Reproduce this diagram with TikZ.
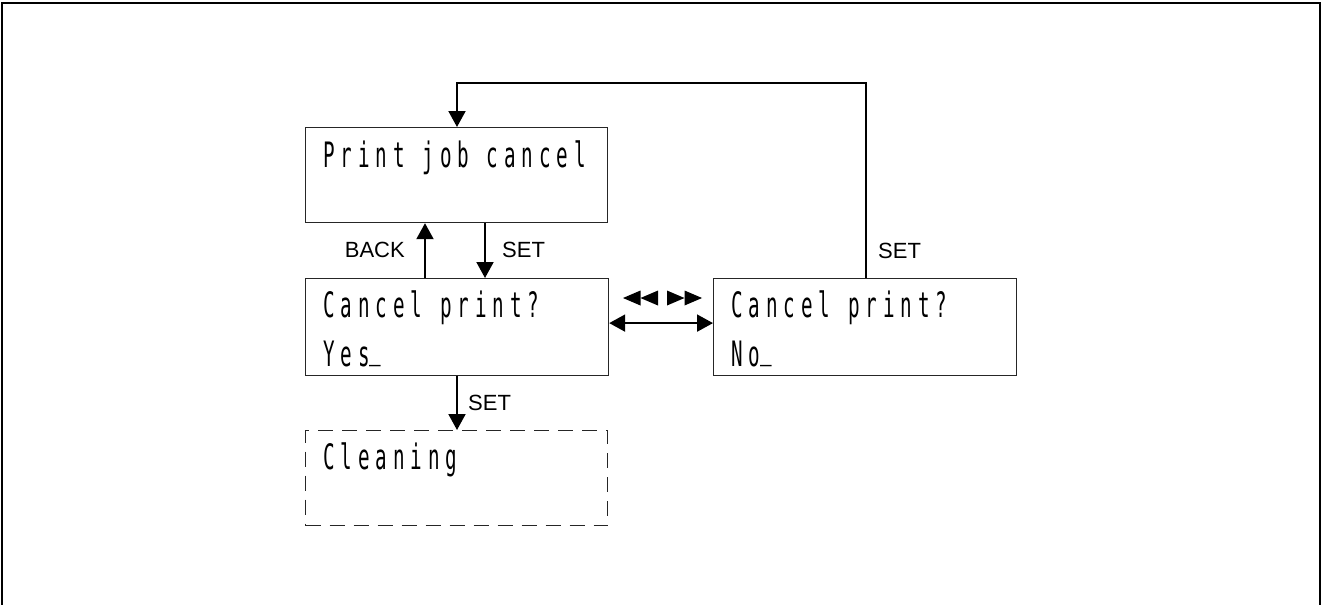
\documentclass[tikz,border=0pt]{standalone}
\usepackage{fontspec}
\setmainfont{Liberation Sans}
\newfontfamily\lcdfont[FakeStretch=0.55,LetterSpace=17]{DejaVu Sans Mono}
\usetikzlibrary{arrows.meta,calc}
\newcommand{\lcdus}{\raisebox{7.5pt}{\_}}
\begin{document}
\begin{tikzpicture}[x=1pt,y=-1pt,
  box/.style={draw=black!85,line width=1.2pt,rectangle,inner sep=0pt,anchor=north west},
  dbox/.style={box,dash pattern=on 15pt off 9pt},
  lcd/.style={anchor=base west,inner sep=0pt,font=\lcdfont\fontsize{35}{35}\selectfont},
  lab/.style={inner sep=0pt,font=\fontsize{22}{22}\selectfont},
  conn/.style={line width=2pt,-{Triangle[length=16pt,width=17pt]}},
  frame/.style={line width=2.6pt}
  ]
\useasboundingbox (0,0) rectangle (1326,605);
\draw[frame] (2,615) -- (2,3) -- (1320,3) -- (1320,615);

\node[box,minimum width=302pt,minimum height=95pt] (b1) at (305,127) {};
\node[box,minimum width=303pt,minimum height=97pt] (b2) at (305,278) {};
\node[dbox,minimum width=302pt,minimum height=95pt] (b3) at (305,430) {};
\node[box,minimum width=303pt,minimum height=97pt] (b4) at (713,278) {};

\node[lcd] (t1) at (323,167) {Print job cancel};
\node[lcd] (t2) at (323,317) {Cancel print?};
\node[lcd] (t3) at (323,366) {Yes\lcdus};
\node[lcd] (t4) at (323,469) {Cleaning};
\node[lcd] (t5) at (731,317) {Cancel print?};
\node[lcd] (t6) at (731,366) {No\lcdus};

\draw[conn] ([xshift=120pt]b2.north west) -- ([xshift=120pt]b1.south west);
\draw[conn] ([xshift=180pt]b1.south west) -- ([xshift=180pt]b2.north west);
\draw[conn] ([xshift=152pt]b2.south west) -- ([xshift=152pt]b3.north west);
\draw[line width=2pt,{Triangle[length=16pt,width=17pt]}-{Triangle[length=16pt,width=17pt]}] ([yshift=4pt]b2.east) -- ([yshift=4pt]b4.west);
\draw[conn] ([xshift=153pt]b4.north west) -- ++(0,-195) -| ([xshift=152pt]b1.north west);

\node[lab,anchor=base east] (lback) at (405,257) {BACK};
\node[lab,anchor=base west] (lset1) at (502,257) {SET};
\node[lab,anchor=base west] (lset2) at (468,410) {SET};
\node[lab,anchor=base west] (lset3) at (878,258) {SET};

\fill (623,298) -- (640.5,290.5) -- (640.5,305.5) -- cycle;
\fill (640.5,298) -- (658,290.5) -- (658,305.5) -- cycle;
\fill (702,298) -- (684.5,290.5) -- (684.5,305.5) -- cycle;
\fill (684.5,298) -- (667,290.5) -- (667,305.5) -- cycle;
\end{tikzpicture}
\end{document}
